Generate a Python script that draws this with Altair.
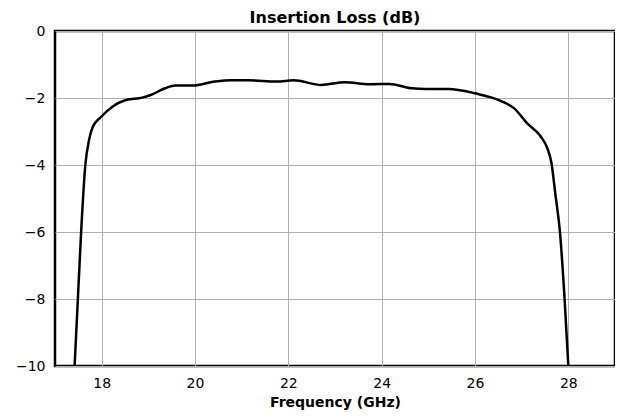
import altair as alt
import pandas as pd

freq_ghz = [17.42, 17.49, 17.56, 17.65, 17.73, 17.81, 17.99, 18.23, 18.52, 18.87,
            19.05, 19.36, 19.58, 19.93, 20.42, 20.77, 21.13, 21.76, 22.11, 22.71,
            23.21, 23.74, 24.16, 24.65, 24.94, 25.43, 26.0, 26.56, 26.84, 27.12,
            27.41, 27.55, 27.64, 27.72, 27.82, 27.92, 28.0]
loss_db = [-10.0, -8.0, -6.0, -4.0, -3.25, -2.86, -2.56, -2.26, -2.06, -1.99,
           -1.91, -1.71, -1.63, -1.63, -1.51, -1.47, -1.47, -1.51, -1.47, -1.61,
           -1.53, -1.59, -1.58, -1.71, -1.73, -1.73, -1.86, -2.09, -2.31, -2.76,
           -3.15, -3.5, -3.95, -4.85, -6.0, -8.0, -10.0]
x_ticks = [18, 20, 22, 24, 26, 28]
y_ticks = [0, -2, -4, -6, -8, -10]

df = pd.DataFrame({"f": freq_ghz, "il": loss_db})

FONT = "DejaVu Sans"

chart = alt.Chart(df).mark_line(
    color="black", strokeWidth=2.5, interpolate="monotone", clip=True
).encode(
    x=alt.X("f:Q", scale=alt.Scale(domain=[17, 29], nice=False, zero=False),
            axis=alt.Axis(values=x_ticks, title="Frequency (GHz)", format="d",
                          labelPadding=10, titlePadding=5)),
    y=alt.Y("il:Q", scale=alt.Scale(domain=[-10, 0], nice=False),
            axis=alt.Axis(values=y_ticks, title=None, format="d", labelPadding=10)),
).properties(
    width=560, height=335,
    background="white",
    title=alt.TitleParams("Insertion Loss (dB)", font=FONT, fontSize=16,
                          fontWeight="bold", color="black", offset=-2),
    autosize=alt.AutoSizeParams(type="none"),
    padding={"left": 47, "top": 23, "right": 0, "bottom": 45},
).configure_view(
    stroke="black", strokeWidth=2.5
).configure_axis(
    domain=False, ticks=False, grid=True, gridColor="#b0b0b0", gridWidth=1,
    labelFont=FONT, labelFontSize=14, labelColor="black",
    titleFont=FONT, titleFontSize=14, titleFontWeight="bold", titleColor="black",
)

chart.save("out.html", embed_options={"renderer": "svg", "actions": False})
